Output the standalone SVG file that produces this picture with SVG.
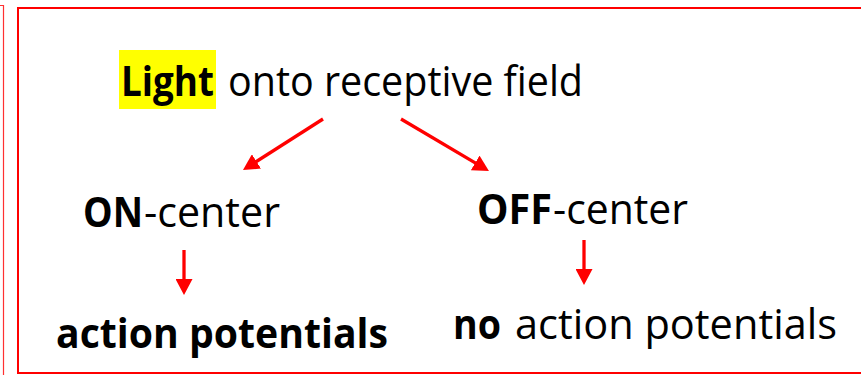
<svg xmlns="http://www.w3.org/2000/svg" width="861" height="375" viewBox="0 0 861 375">
  <style>
    .t { font-family: "Open Sans", "Liberation Sans", sans-serif; font-size: 42px; fill: #000; }
    .b { font-weight: bold; }
    .conn { stroke: #FF0000; stroke-width: 3.3; fill: none; }
  </style>
  <defs>
    <marker id="ah" markerUnits="userSpaceOnUse" markerWidth="16" markerHeight="17" refX="2" refY="8.5" orient="auto">
      <path d="M0,0 L16,8.5 L0,17 Z" fill="#FF0000"/>
    </marker>
  </defs>
  <rect width="861" height="375" fill="#FFFFFF"/>
  <path d="M0,5.5 H3.5 V375" fill="none" stroke="#FF3030" stroke-width="1.2"/>
  <rect x="18" y="8" width="845" height="365" fill="none" stroke="#FF0000" stroke-width="2"/>

  <g id="light">
    <rect x="119" y="50" width="97" height="59" fill="#FFFF00"/>
    <text class="t b" x="121" y="96" textLength="93" lengthAdjust="spacingAndGlyphs">Light</text>
    <text class="t" x="228" y="96" textLength="355" lengthAdjust="spacingAndGlyphs">onto receptive field</text>
  </g>
  <g id="on-center">
    <text class="t b" x="83" y="227" textLength="60" lengthAdjust="spacingAndGlyphs">ON</text>
    <text class="t" x="144" y="227" textLength="136" lengthAdjust="spacingAndGlyphs">-center</text>
  </g>
  <g id="off-center">
    <text class="t b" x="477" y="224" textLength="75" lengthAdjust="spacingAndGlyphs">OFF</text>
    <text class="t" x="553" y="224" textLength="135" lengthAdjust="spacingAndGlyphs">-center</text>
  </g>
  <g id="action-potentials">
    <text class="t b" x="56" y="348" textLength="332" lengthAdjust="spacingAndGlyphs">action potentials</text>
  </g>
  <g id="no-action-potentials">
    <text class="t b" x="453" y="339" textLength="48" lengthAdjust="spacingAndGlyphs">no</text>
    <text class="t" x="515" y="339" textLength="322" lengthAdjust="spacingAndGlyphs">action potentials</text>
  </g>

  <g id="connectors">
    <line class="conn" x1="323" y1="119" x2="254.8" y2="162.5" marker-end="url(#ah)"/>
    <line class="conn" x1="401" y1="119" x2="476.9" y2="163.9" marker-end="url(#ah)"/>
    <line class="conn" x1="184" y1="250" x2="184" y2="281" marker-end="url(#ah)"/>
    <line class="conn" x1="584" y1="240" x2="584" y2="271" marker-end="url(#ah)"/>
  </g>
</svg>
